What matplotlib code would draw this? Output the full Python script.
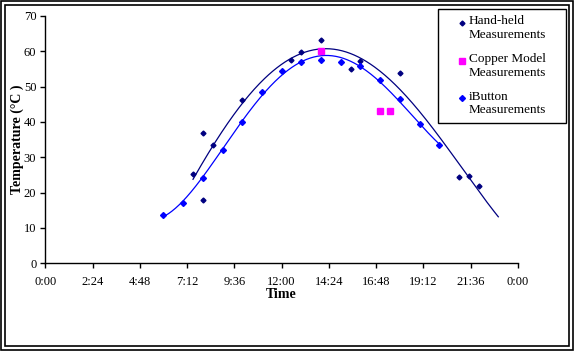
import numpy as np
import matplotlib
matplotlib.use("Agg")
import matplotlib.pyplot as plt
from matplotlib.patches import Rectangle
from matplotlib.lines import Line2D

# ---- data (hours of day, temperature in deg C) ----
hand_hours = [7.5, 8.0, 8.0, 8.5, 10.0, 12.5, 13.0, 14.0, 15.5, 16.0, 18.0, 21.0, 21.5, 22.0]
hand_temp = [25.3, 17.9, 36.8, 33.4, 46.2, 57.5, 59.7, 63.2, 54.9, 57.2, 53.8, 24.5, 24.8, 22.0]

copper_hours = [14.0, 17.0, 17.5]
copper_temp = [60.0, 43.1, 43.2]

ibutton_hours = [6.0, 7.0, 8.0, 9.0, 10.0, 11.0, 12.0, 13.0, 14.0, 15.0, 16.0, 17.0, 18.0, 19.0, 20.0]
ibutton_temp = [13.7, 17.2, 24.1, 32.1, 40.1, 48.5, 54.4, 57.1, 57.6, 57.0, 55.8, 51.8, 46.5, 39.4, 33.5]

x_tick_labels = ["0:00", "2:24", "4:48", "7:12", "9:36", "12:00", "14:24", "16:48", "19:12", "21:36", "0:00"]
y_ticks = [0, 10, 20, 30, 40, 50, 60, 70]
legend_labels = ["Hand-held\nMeasurements", "Copper Model\nMeasurements", "iButton\nMeasurements"]

NAVY = "#000080"
BLUE = "#0000FF"
MAGENTA = "#FF00FF"

plt.rcParams['font.family'] = ['Liberation Serif', 'DejaVu Serif']

W, H = 577, 351
fig = plt.figure(figsize=(W / 100, H / 100), dpi=100)
ax = fig.add_axes([45.3 / W, 1 - 263.3 / H, (518 - 45.3) / W, (263.3 - 16) / H])

hx = np.array(hand_hours) / 24.0
hy = np.array(hand_temp)
cx = np.array(copper_hours) / 24.0
cy = np.array(copper_temp)
bx = np.array(ibutton_hours) / 24.0
by = np.array(ibutton_temp)

# polynomial trendline for hand-held data (forecast forward 1 h)
coef = np.polyfit(hx, hy, 4)
tx = np.linspace(hx.min(), hx.max() + 1 / 24.0, 300)
ax.plot(tx, np.polyval(coef, tx), color=NAVY, lw=0.9, zorder=2)

# polynomial trendline for iButton data
coef_b = np.polyfit(bx, by, 4)
tbx = np.linspace(bx.min(), bx.max(), 300)
ax.plot(tbx, np.polyval(coef_b, tbx), color=BLUE, lw=0.9, zorder=2)

hand_style = dict(linestyle='none', marker='D', ms=2.5, color=NAVY)
copper_style = dict(linestyle='none', marker='s', ms=4.3, color=MAGENTA)
ibutton_style = dict(linestyle='none', marker='D', ms=3.0, color=BLUE)

ax.plot(hx, hy, zorder=3, **hand_style)
ax.plot(cx, cy, zorder=3, **copper_style)
ax.plot(bx, by, zorder=3, **ibutton_style)

ax.set_xlim(0, 1)
ax.set_ylim(0, 70)
ax.set_xticks(np.arange(0, 1.0001, 0.1))
ax.set_xticklabels(x_tick_labels)
ax.set_yticks(y_ticks)
for s in ['top', 'right']:
    ax.spines[s].set_visible(False)
for s in ['left', 'bottom']:
    ax.spines[s].set_linewidth(1.0)
ax.tick_params(axis='both', direction='out', length=3.5, width=1, labelsize=9)
ax.tick_params(axis='x', pad=6)
ax.tick_params(axis='y', pad=3)

ax.set_xlabel('Time', fontsize=10, fontweight='bold')
ax.xaxis.set_label_coords(0.5, -(294 - 263.3) / (263.3 - 16), transform=ax.transAxes)
ax.xaxis.label.set_va('center')
ax.set_ylabel('Temperature (°C )', fontsize=10, fontweight='bold')
ax.yaxis.set_label_coords(-(45.3 - 17) / (518 - 45.3), 0.5, transform=ax.transAxes)
ax.yaxis.label.set_va('center')

# legend (Excel style: marker aligned with first label line)
fig.patches.append(Rectangle((438 / W, 1 - 123.3 / H), (566 - 438) / W, (123.3 - 9.3) / H,
                             transform=fig.transFigure, fill=False, edgecolor='black', lw=1.0))
styles = [hand_style, copper_style, ibutton_style]
first_line_y = [23, 60.5, 98]
for lab, st, yy in zip(legend_labels, styles, first_line_y):
    fig.add_artist(Line2D([462 / W], [1 - yy / H], transform=fig.transFigure, **st))
    fig.text(469 / W, 1 - (yy - 7.5) / H, lab, fontsize=9.5, va='top', ha='left', linespacing=1.22)

# double border around the chart
fig.patches.append(Rectangle((1 / W, 1.5 / H), 571.5 / W, 348.5 / H, transform=fig.transFigure,
                             fill=False, edgecolor='black', lw=1.2))
fig.patches.append(Rectangle((4.5 / W, 5 / H), 564 / W, 341.5 / H, transform=fig.transFigure,
                             fill=False, edgecolor='black', lw=1.2))

fig.savefig('out.png', dpi=100)
